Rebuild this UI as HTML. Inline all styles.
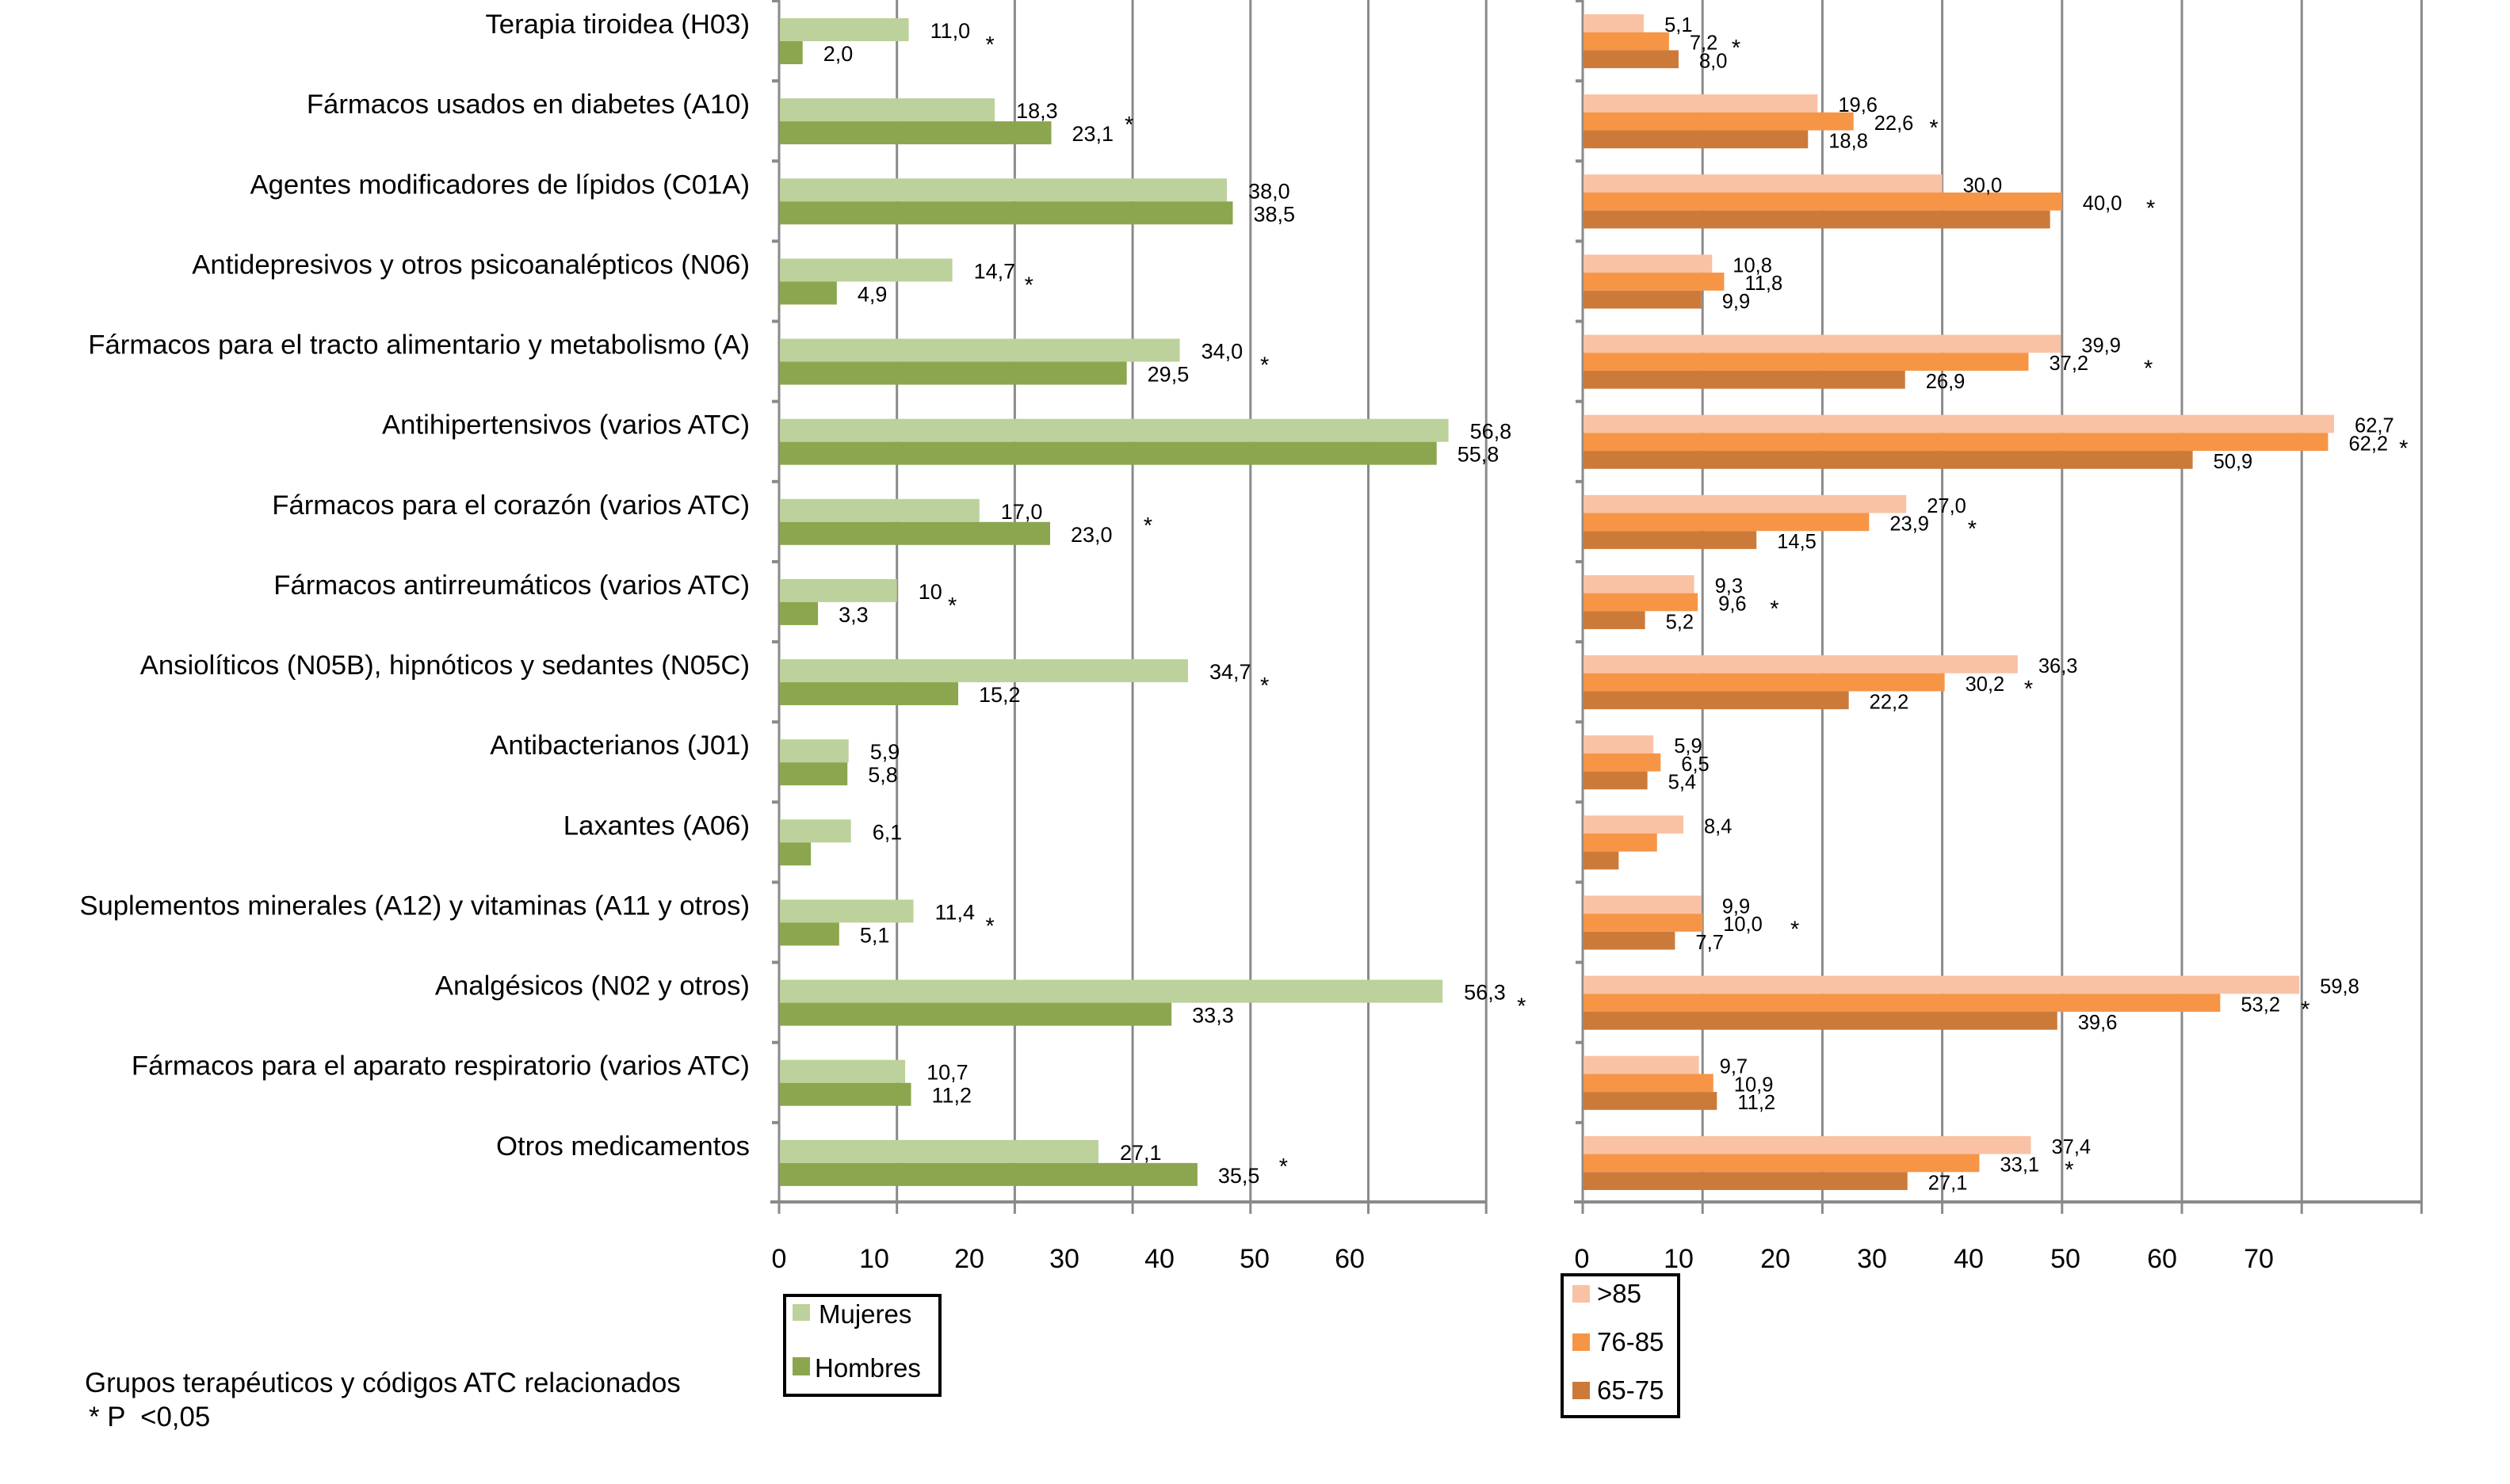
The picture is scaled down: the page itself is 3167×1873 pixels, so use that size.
<!DOCTYPE html>
<html><head><meta charset="utf-8"><style>
html,body{margin:0;padding:0;background:#fff;}
svg{display:block;font-family:"Liberation Sans",Arial,sans-serif;}
</style></head><body>
<svg id="chart" width="3167" height="1873" viewBox="0 0 3167 1873" xmlns="http://www.w3.org/2000/svg">
<g id="grid"></g><g id="bars"></g><g id="labels"></g>
<text x="107" y="1757" font-size="34.8">Grupos terapéuticos y códigos ATC relacionados</text>
<text x="112" y="1800" font-size="34.8" style="white-space:pre">* P  &lt;0,05</text>
<g>
<rect x="990" y="1635" width="196" height="126" fill="#fff" stroke="#000" stroke-width="4"/>
<rect x="1000" y="1646" width="22" height="21" fill="#bcd19b"/>
<text x="1033" y="1670" font-size="33">Mujeres</text>
<rect x="1000" y="1713" width="22" height="23" fill="#8ba64f"/>
<text x="1028" y="1738" font-size="33">Hombres</text>
</g>
<g>
<rect x="1971" y="1609" width="147" height="179" fill="#fff" stroke="#000" stroke-width="4"/>
<rect x="1984" y="1622" width="22" height="22" fill="#f9c2a5"/>
<text x="2015" y="1644" font-size="33">&gt;85</text>
<rect x="1984" y="1683" width="22" height="22" fill="#f69546"/>
<text x="2015" y="1705" font-size="33">76-85</text>
<rect x="1984" y="1744" width="22" height="22" fill="#cc7a3a"/>
<text x="2015" y="1766" font-size="33">65-75</text>
</g>
</svg>
<script>
const categories=["Terapia tiroidea (H03)","Fármacos usados en diabetes (A10)","Agentes modificadores de lípidos (C01A)","Antidepresivos y otros psicoanalépticos (N06)","Fármacos para el tracto alimentario y metabolismo (A)","Antihipertensivos (varios ATC)","Fármacos para el corazón (varios ATC)","Fármacos antirreumáticos (varios ATC)","Ansiolíticos (N05B), hipnóticos y sedantes (N05C)","Antibacterianos (J01)","Laxantes (A06)","Suplementos minerales (A12) y vitaminas (A11 y otros)","Analgésicos (N02 y otros)","Fármacos para el aparato respiratorio (varios ATC)","Otros medicamentos"];
const mujeres=[11.0,18.3,38.0,14.7,34.0,56.8,17.0,10,34.7,5.9,6.1,11.4,56.3,10.7,27.1];
const hombres=[2.0,23.1,38.5,4.9,29.5,55.8,23.0,3.3,15.2,5.8,2.7,5.1,33.3,11.2,35.5];
const mujeresLbl=["11,0","18,3","38,0","14,7","34,0","56,8","17,0","10","34,7","5,9","6,1","11,4","56,3","10,7","27,1"];
const hombresLbl=["2,0","23,1","38,5","4,9","29,5","55,8","23,0","3,3","15,2","5,8","","5,1","33,3","11,2","35,5"];
const sexStars=[17.9,29.7,null,21.2,41.2,null,31.3,14.7,41.2,null,null,17.9,63.0,null,42.8];
const age85=[5.1,19.6,30.0,10.8,39.9,62.7,27.0,9.3,36.3,5.9,8.4,9.9,59.8,9.7,37.4];
const age76=[7.2,22.6,40.0,11.8,37.2,62.2,23.9,9.6,30.2,6.5,6.2,10.0,53.2,10.9,33.1];
const age65=[8.0,18.8,39.0,9.9,26.9,50.9,14.5,5.2,22.2,5.4,3.0,7.7,39.6,11.2,27.1];
const age85Lbl=["5,1","19,6","30,0","10,8","39,9","62,7","27,0","9,3","36,3","5,9","8,4","9,9","59,8","9,7","37,4"];
const age76Lbl=["7,2","22,6","40,0","11,8","37,2","62,2","23,9","9,6","30,2","6,5","","10,0","53,2","10,9","33,1"];
const age65Lbl=["8,0","18,8","","9,9","26,9","50,9","14,5","5,2","22,2","5,4","","7,7","39,6","11,2","27,1"];
const ageStars=[12.8,29.3,47.4,null,47.2,68.5,32.5,16.0,37.2,null,null,17.7,60.3,null,40.6];
const leftTicks=["0","10","20","30","40","50","60"];
const rightTicks=["0","10","20","30","40","50","60","70"];

const NS="http://www.w3.org/2000/svg";
function mk(tag,attrs,parent,txt){const e=document.createElementNS(NS,tag);for(const k in attrs)e.setAttribute(k,attrs[k]);if(txt!==undefined)e.textContent=txt;parent.appendChild(e);return e;}
const G=document.getElementById('grid'),B=document.getElementById('bars'),L=document.getElementById('labels');
const rowH=1517/15;
const yRow=i=>i*rowH;
const xL=v=>983+v*14.87;
const xR=v=>1997+v*15.12;
const GC="#8a8a8a";
for(let k=0;k<=6;k++){const l=mk('line',{x1:xL(k*10),x2:xL(k*10),y1:0,y2:1532,stroke:GC,'stroke-width':3},G);

}
for(let k=0;k<=7;k++){const l=mk('line',{x1:xR(k*10),x2:xR(k*10),y1:0,y2:1532,stroke:GC,'stroke-width':3},G);

}
let ax=mk('line',{x1:972,x2:xL(60)+1,y1:1517,y2:1517,stroke:GC,'stroke-width':4},G);


ax=mk('line',{x1:1986,x2:xR(70)+1,y1:1517,y2:1517,stroke:GC,'stroke-width':4},G);


for(let i=0;i<15;i++){
 mk('line',{x1:974,x2:983,y1:yRow(i)+1,y2:yRow(i)+1,stroke:GC,'stroke-width':4},G);
 mk('line',{x1:1988,x2:1997,y1:yRow(i)+1,y2:yRow(i)+1,stroke:GC,'stroke-width':4},G);
}
leftTicks.forEach((t,k)=>{const e=mk('text',{x:983+k*120,y:1600,'font-size':34,'text-anchor':'middle'},L,t);

});
rightTicks.forEach((t,k)=>{const e=mk('text',{x:1996+k*122,y:1600,'font-size':34,'text-anchor':'middle'},L,t);

});
categories.forEach((c,i)=>{
 const e=mk('text',{x:946,y:yRow(i)+42,'font-size':34.7,'text-anchor':'end'},L,c);
 
 
 const y0=yRow(i);
 const b1=mk('rect',{x:984,y:y0+23,width:Math.max(0,xL(mujeres[i])-984),height:29,fill:'#bcd19b'},B);
 
 
 const b2=mk('rect',{x:984,y:y0+52,width:Math.max(0,xL(hombres[i])-984),height:29,fill:'#8ba64f'},B);
 
 
 if(mujeresLbl[i]){const t=mk('text',{x:xL(mujeres[i])+27,y:y0+48,'font-size':27},L,mujeresLbl[i]);
 
 }
 if(hombresLbl[i]){const t=mk('text',{x:xL(hombres[i])+26,y:y0+77,'font-size':27},L,hombresLbl[i]);
 
 }
 if(sexStars[i]!==null){const s=mk('text',{x:xL(sexStars[i]),y:y0+66,'font-size':29,'text-anchor':'middle'},L,'*');
 
 }
 const series=[[age85,age85Lbl,'#f9c2a5','bar-85','value-label-85'],[age76,age76Lbl,'#f69546','bar-76-85','value-label-76-85'],[age65,age65Lbl,'#cc7a3a','bar-65-75','value-label-65-75']];
 series.forEach((s,j)=>{
  const yy=y0+18+j*22.7;
  const r=mk('rect',{x:1998,y:yy,width:Math.max(0,xR(s[0][i])-1998),height:22.7,fill:s[2]},B);
  
  
  if(s[1][i]){const t=mk('text',{x:xR(s[0][i])+26,y:yy+22,'font-size':25.5},L,s[1][i]);
  
  }
 });
 if(ageStars[i]!==null){const s=mk('text',{x:xR(ageStars[i]),y:y0+70,'font-size':29,'text-anchor':'middle'},L,'*');
 
 }
});
</script>
</body></html>
